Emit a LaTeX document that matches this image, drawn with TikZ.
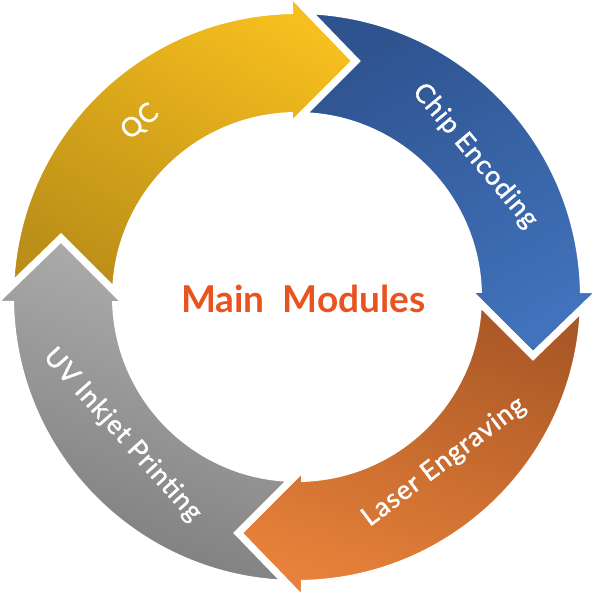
\documentclass[tikz,border=0pt]{standalone}
\usepackage{fontspec}
\setmainfont{Lato}
\newfontfamily\lblfont[LetterSpace=4, FakeBold=1.2]{Lato}
\begin{document}
\begin{tikzpicture}[x=1pt,y=1pt,
  seg/.style={draw=white, line width=7pt, line join=miter},
  lbl/.style={text=white, font=\lblfont\fontsize{26.5}{26.5}\selectfont, inner sep=0pt},
  title/.style={text=mmred, font=\fontsize{37}{37}\selectfont\bfseries, inner sep=0pt}
]
\definecolor{ylA}{HTML}{F6BE1E}
\definecolor{ylB}{HTML}{BC8F18}
\definecolor{blA}{HTML}{2E538F}
\definecolor{blB}{HTML}{4172BB}
\definecolor{orA}{HTML}{AA5826}
\definecolor{orB}{HTML}{E8823A}
\definecolor{grA}{HTML}{B0B0B0}
\definecolor{grB}{HTML}{7C7C7D}
\definecolor{mmred}{HTML}{E8531F}
\useasboundingbox (-297,-298) rectangle (298,297);

% QC (yellow)
\shadedraw[seg, top color=ylA, bottom color=ylB, shading angle=-30]
  (177.95:286.5) arc[start angle=177.95, end angle=91.5, radius=286.5]
  -- (-7.5,304.66) -- (58.9,235.96) -- (-7.5,169.56)
  -- (92.37:181.5) arc[start angle=92.37, end angle=178.61, radius=181.5]
  -- (-235.96,58.9) -- cycle;

% Chip Encoding (blue)
\shadedraw[seg, top color=blA, bottom color=blB, shading angle=30]
  (87.95:286.5) arc[start angle=87.95, end angle=1.5, radius=286.5]
  -- (304.66,7.5) -- (235.96,-58.9) -- (169.56,7.5)
  -- (2.37:181.5) arc[start angle=2.37, end angle=88.61, radius=181.5]
  -- (58.9,235.96) -- cycle;

% Laser Engraving (orange)
\shadedraw[seg, top color=orA, bottom color=orB, shading angle=-20]
  (-2.05:286.5) arc[start angle=-2.05, end angle=-88.5, radius=286.5]
  -- (7.5,-304.66) -- (-58.9,-235.96) -- (7.5,-169.56)
  -- (-87.63:181.5) arc[start angle=-87.63, end angle=-1.39, radius=181.5]
  -- (235.96,-58.9) -- cycle;

% UV Inkjet Printing (gray)
\shadedraw[seg, left color=grA, right color=grB, shading angle=-20]
  (267.95:286.5) arc[start angle=267.95, end angle=181.5, radius=286.5]
  -- (-304.66,-7.5) -- (-235.96,58.9) -- (-169.56,-7.5)
  -- (182.37:181.5) arc[start angle=182.37, end angle=268.61, radius=181.5]
  -- (-58.9,-235.96) -- cycle;

\node[lbl, rotate=40] (qc) at (-157,175) {QC};
\node[lbl, rotate=-50] (chip) at (178,141) {Chip Encoding};
\node[lbl, rotate=37] (laser) at (147,-165) {Laser Engraving};
\node[lbl, rotate=-48] (uv) at (-174.5,-138) {UV Inkjet Printing};
\node[title, anchor=base] (main) at (6.4,-15.3) {Main\ \ Modules};
\end{tikzpicture}
\end{document}
